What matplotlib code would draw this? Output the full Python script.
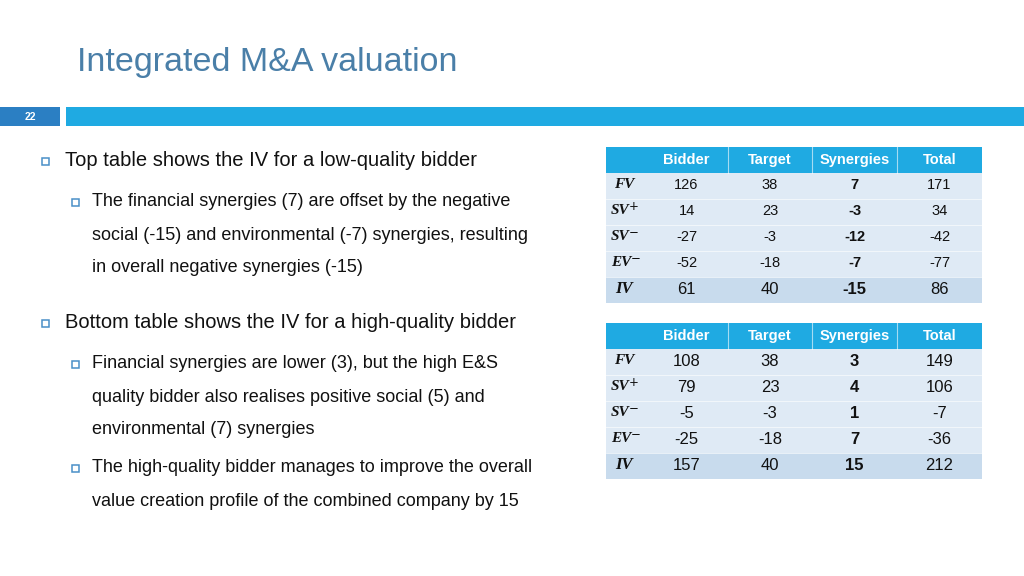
import matplotlib
matplotlib.use('Agg')
import matplotlib.pyplot as plt
import matplotlib.patches as mpatches

plt.rcParams['font.family'] = ['Liberation Sans', 'DejaVu Sans']

# --- content ---
title = 'Integrated M&A valuation'
slide_no = '22'

columns = ['Bidder', 'Target', 'Synergies', 'Total']
row_labels = ['FV', 'SV', 'SV', 'EV', 'IV']
row_signs = ['', '+', '\u2212', '\u2212', '']

low_bidder = [126, 14, -27, -52, 61]
low_target = [38, 23, -3, -18, 40]
low_synergies = [7, -3, -12, -7, -15]
low_total = [171, 34, -42, -77, 86]

high_bidder = [108, 79, -5, -25, 157]
high_target = [38, 23, -3, -18, 40]
high_synergies = [3, 4, 1, 7, 15]
high_total = [149, 106, -7, -36, 212]

bullets = [
    (0, 161, 'Top table shows the IV for a low-quality bidder'),
    (1, 202, 'The financial synergies (7) are offset by the negative'),
    (2, 235, 'social (-15) and environmental (-7) synergies, resulting'),
    (2, 268, 'in overall negative synergies (-15)'),
    (0, 323, 'Bottom table shows the IV for a high-quality bidder'),
    (1, 364, 'Financial synergies are lower (3), but the high E&S'),
    (2, 397, 'quality bidder also realises positive social (5) and'),
    (2, 430, 'environmental (7) synergies'),
    (1, 468, 'The high-quality bidder manages to improve the overall'),
    (2, 501, 'value creation profile of the combined company by 15'),
]

# --- colours ---
title_col = '#4a7fa8'
dark_blue = '#2b7fc3'
light_blue = '#1faae2'
body_col = '#dfeaf5'
iv_col = '#c8dbed'
bullet_col = '#4a90c8'

fig = plt.figure(figsize=(10.24, 5.76), dpi=100)
ax = fig.add_axes([0, 0, 1, 1])
ax.set_xlim(0, 1024)
ax.set_ylim(576, 0)
ax.axis('off')

# title and header bar
ax.text(77, 62, title, fontsize=24.5, color=title_col, va='center', ha='left')
ax.add_patch(mpatches.Rectangle((0, 107), 60, 19, color=dark_blue, lw=0))
ax.add_patch(mpatches.Rectangle((66, 107), 958, 19, color=light_blue, lw=0))
ax.text(30, 116.5, slide_no, fontsize=7.5, color='white', fontweight='bold',
        ha='center', va='center')

# bullets
for level, y, txt in bullets:
    if level == 0:
        bx, tx, fs = 45, 65, 14.5
    else:
        bx, tx, fs = 75, 92, 13
    if level < 2:
        ax.add_patch(mpatches.Rectangle((bx - 3.5, y - 3.5), 7, 7, facecolor='white',
                                        edgecolor=bullet_col, lw=1.1))
    ax.text(tx, y, txt, fontsize=fs, color='#111111', va='center', ha='left')


def draw_table(top, bidder, target, synergies, total, small_body):
    x_edges = [606, 645, 728, 812, 897, 982]
    head_h = 26
    row_h = 26
    ax.add_patch(mpatches.Rectangle((x_edges[0], top), x_edges[-1] - x_edges[0], head_h,
                                    color=light_blue, lw=0))
    for xe in x_edges[2:-1]:
        ax.plot([xe, xe], [top, top + head_h], color='white', lw=0.8, alpha=0.6)
    centers = [(x_edges[i] + x_edges[i + 1]) / 2 for i in range(len(x_edges) - 1)]
    for c, name in zip(centers[1:], columns):
        ax.text(c, top + head_h / 2, name, fontsize=10.5, color='white', fontweight='bold',
                ha='center', va='center')
    cols = [bidder, target, synergies, total]
    for r, (lab, sign) in enumerate(zip(row_labels, row_signs)):
        y0 = top + head_h + r * row_h
        is_iv = r == len(row_labels) - 1
        ax.add_patch(mpatches.Rectangle((x_edges[0], y0), x_edges[-1] - x_edges[0], row_h,
                                        color=iv_col if is_iv else body_col, lw=0))
        if r > 0:
            ax.plot([x_edges[0], x_edges[-1]], [y0, y0], color='white', lw=0.6, alpha=0.7)
        yc = y0 + row_h / 2
        lab_x = 624 if not sign else 611
        t = ax.text(lab_x, yc - 1, lab, fontsize=12 if is_iv else 11, family='Liberation Serif',
                    fontweight='bold', fontstyle='italic', color='#111111',
                    ha='center' if not sign else 'left', va='center')
        if sign:
            # superscript placed just right of the label's own extent
            ax.annotate(sign, xy=(1, 0.85), xycoords=t, xytext=(-0.5, 0),
                        textcoords='offset points', fontsize=8.5, family='DejaVu Sans',
                        color='#111111', ha='left', va='center')
        fs = 10.5 if (small_body and not is_iv) else 12
        for j, vals in enumerate(cols):
            ax.text(centers[j + 1], yc - 1, str(vals[r]), fontsize=fs, color='#111111',
                    ha='center', va='center', fontweight='bold' if j == 2 else 'normal')


draw_table(147, low_bidder, low_target, low_synergies, low_total, True)
draw_table(323, high_bidder, high_target, high_synergies, high_total, False)

fig.savefig('out.png', dpi=100, facecolor='white')
